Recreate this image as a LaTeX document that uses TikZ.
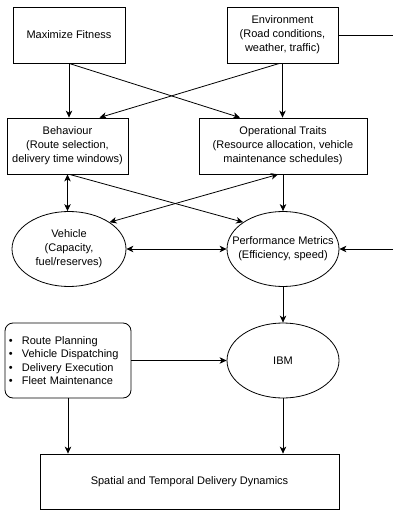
\documentclass[tikz,border=0pt]{standalone}
\usepackage{fontspec}
\setmainfont{Liberation Sans}
\usetikzlibrary{arrows.meta,positioning,calc,shapes.geometric}

\begin{document}
\begin{tikzpicture}[x=1pt, y=-1pt, line width=0.8pt,
		every node/.style={
				font=\fontsize{11}{14}\selectfont,
				align=center, inner sep=2pt
			},
		box/.style={
				draw, shape=rectangle,
				minimum height=56pt
			},
		oval/.style={
				draw, shape=ellipse,
				minimum height=75pt, inner sep=0pt
			},
		roundBox/.style={
				draw, shape=rectangle, rounded corners=8pt,
				minimum height=75pt, text width=118pt,
				align=left, inner sep=4pt,
				font=\fontsize{11}{13.4}\selectfont
			},
		flow/.style={-{Stealth[length=7pt,width=6.5pt,inset=2pt]}},
		twoway/.style={{Stealth[length=7pt,width=6.5pt,inset=2pt]}-{Stealth[length=7pt,width=6.5pt,inset=2pt]}}
	]
	\useasboundingbox (0,0) rectangle (393,510);

	% Top row
	\node[box, minimum width=112pt] (fit) at (69,35) {Maximize Fitness};
	\node[box, minimum width=111pt] (env) at (282.5,35) {Environment\\(Road conditions,\\weather, traffic)};

	% Traits
	\node[box, minimum width=121pt] (beh) at (67.5,146) {Behaviour\\(Route selection,\\delivery time windows)};
	\node[box, minimum width=168pt] (ops) at (283,146) {Operational Traits\\(Resource allocation, vehicle\\maintenance schedules)};

	% Ellipses
	\node[oval, minimum width=114pt, label=center:{Vehicle\\(Capacity,\\fuel/reserves)}] (veh) at (69,249) {};
	\node[oval, minimum width=112pt, label=center:{Performance Metrics\\(Efficiency, speed)}] (perf) at (283,249) {};

	% Bottom part
	\node[roundBox] (tasks) at (68,360.5) {%
		\textbullet\hspace{9pt}Route Planning\\
		\textbullet\hspace{9pt}Vehicle Dispatching\\
		\textbullet\hspace{9pt}Delivery Execution\\
		\textbullet\hspace{9pt}Fleet Maintenance};
	\node[oval, minimum width=112pt, label=center:IBM] (ibm) at (283,360.5) {};
	\node[box, minimum width=299pt, minimum height=55pt] (dyn) at (189.5,481.5) {Spatial and Temporal Delivery Dynamics};

	% Free ends on the right
	\coordinate (envOut) at (393,35);
	\coordinate (perfIn) at (393,249);

	% Connectors from the top row
	\draw[flow] (fit.south) -- (fit.south |- beh.north);
	\draw[flow] (fit.south) -- ($(ops.north)+(-43,0)$);
	\draw[flow] ([xshift=-3pt]env.south) -- ($(beh.north)+(32,0)$);
	\draw[flow] (env.south) -- (env.south |- ops.north);
	\draw (env.east) -- (envOut);

	% Connectors in the middle
	\draw[twoway] (beh.south) -- (beh.south |- veh.north);
	\draw[flow] ([xshift=2pt]beh.south) -- (perf.north west);
	\draw[twoway] (veh.north east) -- ([xshift=-5pt]ops.south);
	\draw[flow] (ops.south) -- (perf.north);
	\draw[twoway] (veh.east) -- (perf.west);
	\draw[flow] (perfIn) -- (perf.east);
	\draw[flow] (perf.south) -- (ibm.north);

	% Connectors at the bottom
	\draw[flow] (tasks.east) -- (ibm.west);
	\draw[flow] (tasks.south) -- (tasks.south |- dyn.north);
	\draw[flow] (ibm.south) -- (ibm.south |- dyn.north);
\end{tikzpicture}
\end{document}
